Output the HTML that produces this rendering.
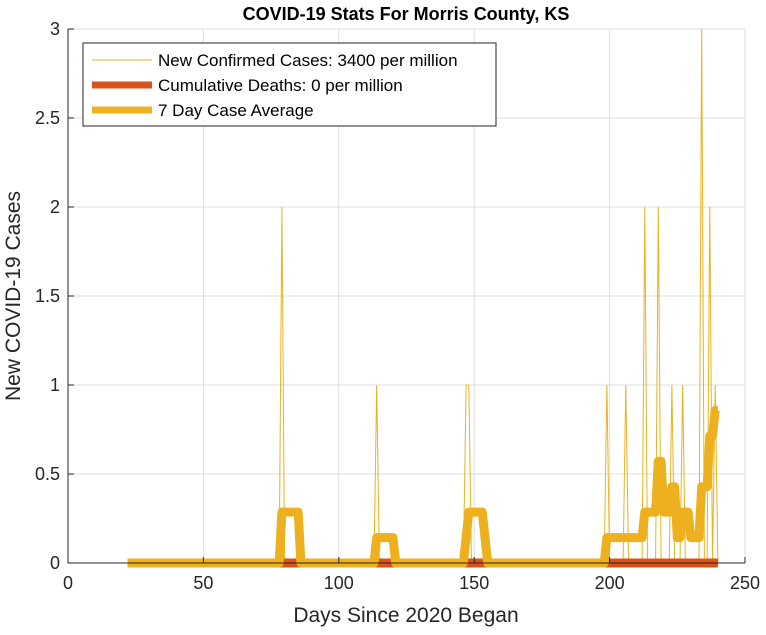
<!DOCTYPE html>
<html><head><meta charset="utf-8"><style>
body{margin:0;background:#fff;}
svg text{font-family:"Liberation Sans",Arial,sans-serif;}
</style></head><body>
<svg id="chart" width="766" height="630"></svg>
<script>
const caseDays=[79,114,147,148,199,206,213,218,223,227,234,237,239];
const caseVals=[2,1,1,1,1,1,2,2,1,1,3,2,1];
const startDay=22, endDay=240;
const xTicks=[0,50,100,150,200,250];
const yTicks=[0,0.5,1,1.5,2,2.5,3];
const yTickLabels=["0","0.5","1","1.5","2","2.5","3"];
const L=68,R=745,T=29,B=563;
const xs=d=>L+(d-0)/(250-0)*(R-L);
const ys=v=>B-(v/3)*(B-T);
const svg=document.getElementById('chart');
const NS='http://www.w3.org/2000/svg';
function mk(tag,attrs,parent){const e=document.createElementNS(NS,tag);for(const k in attrs)e.setAttribute(k,attrs[k]);(parent||svg).appendChild(e);return e;}
xTicks.forEach(t=>{const g=mk('line',{x1:xs(t),x2:xs(t),y1:T,y2:B,stroke:'#dfdfdf','stroke-width':1});

});
yTicks.forEach(t=>{const g=mk('line',{x1:L,x2:R,y1:ys(t),y2:ys(t),stroke:'#dfdfdf','stroke-width':1});

});
const daily=[];
for(let d=startDay;d<=endDay;d++){const i=caseDays.indexOf(d);daily.push({d:d,v:i>=0?caseVals[i]:0});}
const avg=daily.map((p,i)=>{let s=0;for(let k=Math.max(0,i-6);k<=i;k++)s+=daily[k].v;return {d:p.d,v:s/7};});
const pts=a=>a.map(p=>xs(p.d).toFixed(1)+','+ys(p.v).toFixed(1)).join(' ');
const cl=mk('polyline',{points:pts(daily),fill:'none',stroke:'#EDB120','stroke-width':1});


const dl=mk('polyline',{points:pts(daily.map(p=>({d:p.d,v:0}))),fill:'none',stroke:'#D95319','stroke-width':9});


const al=mk('polyline',{points:pts(avg),fill:'none',stroke:'#EDB120','stroke-width':9,'stroke-linejoin':'round'});


const ax=mk('path',{d:`M${L},${T} L${L},${B} L${R},${B}`,fill:'none',stroke:'#262626','stroke-width':1});


xTicks.forEach(t=>{mk('line',{x1:xs(t),x2:xs(t),y1:B,y2:B-6,stroke:'#262626'});
const tx=mk('text',{x:xs(t),y:B+26,'text-anchor':'middle','font-size':18,fill:'#262626'});tx.textContent=t;

});
yTicks.forEach((t,i)=>{mk('line',{x1:L,x2:L+6,y1:ys(t),y2:ys(t),stroke:'#262626'});
const tx=mk('text',{x:L-8,y:ys(t)+6,'text-anchor':'end','font-size':18,fill:'#262626'});tx.textContent=yTickLabels[i];

});
</script>
<svg width="766" height="630" style="position:absolute;left:0;top:0">
<text x="406" y="20" text-anchor="middle" font-size="18" font-weight="bold" fill="#000">COVID-19 Stats For Morris County, KS</text>
<text x="406" y="622" text-anchor="middle" font-size="21" fill="#262626">Days Since 2020 Began</text>
<text transform="translate(20,296) rotate(-90)" text-anchor="middle" font-size="21" fill="#262626">New COVID-19 Cases</text>
<g>
<rect x="83" y="43" width="413" height="83" fill="#fff" stroke="#262626" stroke-width="1"/>
<line x1="92" y1="60" x2="152" y2="60" stroke="#EDB120" stroke-width="1"/>
<text x="158" y="66" font-size="17" fill="#000">New Confirmed Cases: 3400 per million</text>
<line x1="92" y1="85" x2="152" y2="85" stroke="#D95319" stroke-width="7"/>
<text x="158" y="91" font-size="17" fill="#000">Cumulative Deaths: 0 per million</text>
<line x1="92" y1="110" x2="152" y2="110" stroke="#EDB120" stroke-width="7"/>
<text x="158" y="116" font-size="17" fill="#000">7 Day Case Average</text>
</g>
</svg>
</body></html>
